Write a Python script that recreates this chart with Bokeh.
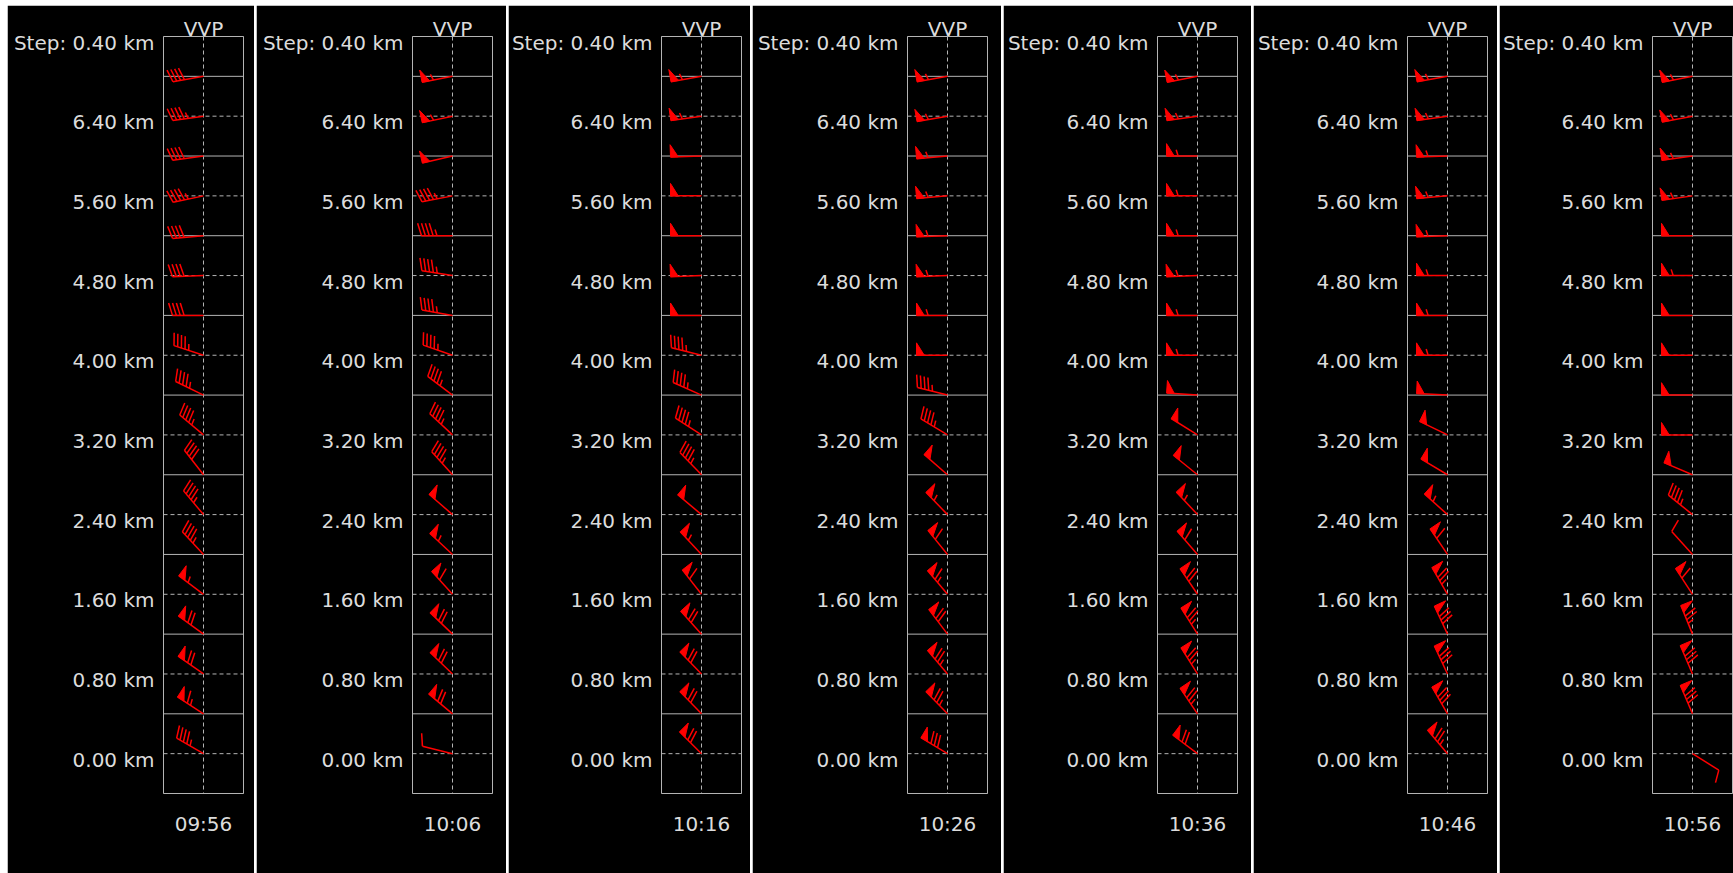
import math
from bokeh.plotting import figure
from bokeh.layouts import row, column
from bokeh.models import Range1d, FixedTicker, Span, Spacer, LinearAxis
from bokeh.embed import file_html
from bokeh.resources import INLINE

# ---------------- data ----------------
TIMES = ["09:56", "10:06", "10:16", "10:26", "10:36", "10:46", "10:56"]
LEVELS_KM = [0.0, 0.4, 0.8, 1.2, 1.6, 2.0, 2.4, 2.8, 3.2, 3.6,
             4.0, 4.4, 4.8, 5.2, 5.6, 6.0, 6.4, 6.8]
LABEL_LEVELS = [0.0, 0.8, 1.6, 2.4, 3.2, 4.0, 4.8, 5.6, 6.4]
STEP_KM = 0.4
TOP_KM = 7.2
PANEL_TITLE = "VVP"

# wind direction (deg, from) and speed per level, bottom to top
DIR_0956 = [300, 303, 305, 306, 307, 317, 320, 322, 310, 296, 288, 270, 268, 265, 258, 262, 262, 260]
SPD_0956 = [45, 65, 70, 70, 55, 45, 45, 40, 45, 45, 45, 40, 40, 40, 45, 40, 45, 40]
DIR_1006 = [284, 310, 314, 314, 318, 313, 311, 318, 313, 307, 289, 280, 279, 270, 259, 257, 258, 259]
SPD_1006 = [10, 70, 70, 70, 60, 55, 50, 45, 45, 45, 45, 45, 45, 45, 45, 50, 55, 55]
DIR_1016 = [315, 316, 316, 318, 322, 317, 310, 316, 303, 294, 284, 270, 268, 270, 270, 268, 262, 260]
SPD_1016 = [70, 70, 70, 70, 60, 55, 50, 45, 45, 45, 45, 50, 50, 50, 50, 50, 55, 55]
DIR_1026 = [301, 316, 320, 323, 320, 321, 316, 311, 301, 284, 270, 270, 268, 268, 265, 265, 260, 260]
SPD_1026 = [80, 75, 75, 70, 65, 60, 55, 50, 45, 45, 50, 55, 55, 55, 55, 55, 55, 55]
DIR_1036 = [307, 326, 328, 328, 326, 319, 317, 309, 302, 274, 270, 270, 268, 270, 270, 270, 262, 259]
SPD_1036 = [70, 75, 75, 75, 70, 60, 55, 50, 50, 50, 55, 55, 55, 55, 55, 55, 55, 55]
DIR_1046 = [320, 330, 335, 335, 330, 326, 312, 301, 296, 273, 270, 270, 270, 268, 265, 268, 262, 260]
SPD_1046 = [75, 80, 80, 80, 75, 60, 55, 50, 50, 50, 55, 55, 55, 55, 55, 55, 55, 55]
DIR_1056 = [122, 337, 337, 338, 327, 318, 309, 293, 270, 270, 270, 270, 270, 270, 262, 262, 259, 259]
SPD_1056 = [10, 80, 80, 75, 60, 10, 45, 50, 50, 50, 50, 50, 55, 50, 55, 55, 55, 55]

DIRS = [DIR_0956, DIR_1006, DIR_1016, DIR_1026, DIR_1036, DIR_1046, DIR_1056]
SPDS = [SPD_0956, SPD_1006, SPD_1016, SPD_1026, SPD_1036, SPD_1046, SPD_1056]

# ---------------- layout ----------------
FRAME_W = 80
FRAME_H = 757
Y0, Y1 = -STEP_KM, TOP_KM
KM_PER_PX = (Y1 - Y0) / FRAME_H
LEFT_B = [156, 156, 153, 155, 154, 154, 153]
RIGHT_B = [11, 14, 9, 14, 14, 10, 1]
TOP_B = 31
BOTTOM_B = 80

TEXT_COLOR = "#dcdcdc"
LINE_COLOR = "#b4b4b4"
BARB_COLOR = "#ff0000"
FONT = "DejaVu Sans"
FSIZE = "20px"


def barb_geometry(level, dir_deg, spd):
    L = 31.0
    spacing = 0.125 * L
    h = 0.4 * L
    w = 0.25 * L
    th = math.radians(dir_deg)
    dx, dy = math.sin(th), math.cos(th)
    px, py = dy, -dx

    def pt(a, b):
        X = a * dx + b * px
        Y = a * dy + b * py
        return X, level + Y * KM_PER_PX

    segs = [(pt(0, 0), pt(L, 0))]
    polys = []
    s = int(5 * round(spd / 5.0))
    nflag = s // 50
    nbarb = (s % 50) // 10
    half = (s % 10) >= 5
    off = L
    for i in range(nflag):
        if i > 0:
            off += spacing / 2
        polys.append([pt(off, 0), pt(off, h), pt(off - w, 0)])
        off -= w + spacing
    for i in range(nbarb):
        segs.append((pt(off, 0), pt(off + w / 2, h)))
        off -= spacing
    if half:
        if off == L:
            off -= 1.5 * spacing
        segs.append((pt(off, 0), pt(off + w / 4, h / 2)))
    return segs, polys


def style_axis(ax, standoff):
    ax.axis_line_color = None
    ax.major_tick_line_color = None
    ax.minor_tick_line_color = None
    ax.major_tick_out = 0
    ax.major_tick_in = 0
    ax.major_label_standoff = standoff
    ax.major_label_text_color = TEXT_COLOR
    ax.major_label_text_font = FONT
    ax.major_label_text_font_size = FSIZE


figs = []
for i, t in enumerate(TIMES):
    p = figure(frame_width=FRAME_W, frame_height=FRAME_H,
               min_border_left=LEFT_B[i], min_border_right=RIGHT_B[i],
               min_border_top=TOP_B, min_border_bottom=BOTTOM_B,
               x_range=Range1d(-FRAME_W / 2, FRAME_W / 2), y_range=Range1d(Y0, Y1),
               output_backend="svg", toolbar_location=None)
    p.background_fill_color = "black"
    p.border_fill_color = "black"
    p.outline_line_color = LINE_COLOR
    p.outline_line_width = 1
    p.grid.visible = False

    # level lines
    for lv in LEVELS_KM:
        dashed = any(abs(lv - q) < 1e-9 for q in LABEL_LEVELS)
        p.add_layout(Span(location=lv, dimension="width", line_color=LINE_COLOR,
                          line_width=1, line_dash="4 3" if dashed else "solid",
                          level="underlay"))
    p.add_layout(Span(location=0, dimension="height", line_color=LINE_COLOR,
                      line_width=1, line_dash="4 3", level="underlay"))

    # barbs
    x0s, y0s, x1s, y1s, pxs, pys = [], [], [], [], [], []
    for lv, d, s in zip(LEVELS_KM, DIRS[i], SPDS[i]):
        if d is None or s is None:
            continue
        segs, polys = barb_geometry(lv, d, s)
        for (a, b) in segs:
            x0s.append(a[0]); y0s.append(a[1]); x1s.append(b[0]); y1s.append(b[1])
        for poly in polys:
            pxs.append([q[0] for q in poly]); pys.append([q[1] for q in poly])
    p.segment(x0=x0s, y0=y0s, x1=x1s, y1=y1s, line_color=BARB_COLOR, line_width=1.5)
    if pxs:
        p.patches(xs=pxs, ys=pys, fill_color=BARB_COLOR, line_color=BARB_COLOR, line_width=1)

    # y axis labels
    shift = 6 * KM_PER_PX
    ticks = [lv - shift for lv in LABEL_LEVELS] + [TOP_KM - shift]
    labels = ["%.2f km" % lv for lv in LABEL_LEVELS] + ["Step: %.2f km" % STEP_KM]
    p.yaxis.ticker = FixedTicker(ticks=ticks)
    p.yaxis.major_label_overrides = {tk: lb for tk, lb in zip(ticks, labels)}
    style_axis(p.yaxis[0], 9)

    # x axis: time label
    p.xaxis.ticker = FixedTicker(ticks=[0])
    p.xaxis.major_label_overrides = {0: t}
    style_axis(p.xaxis[0], 18)

    # top axis: panel title
    top = LinearAxis(ticker=FixedTicker(ticks=[0]), major_label_overrides={0: PANEL_TITLE})
    style_axis(top, -4)
    p.add_layout(top, "above")
    figs.append(p)

panels = row(Spacer(width=5, height=10), *figs, spacing=2)
layout = column(Spacer(width=10, height=3), panels, spacing=2)
open("out.html", "w").write(file_html(layout, INLINE))
